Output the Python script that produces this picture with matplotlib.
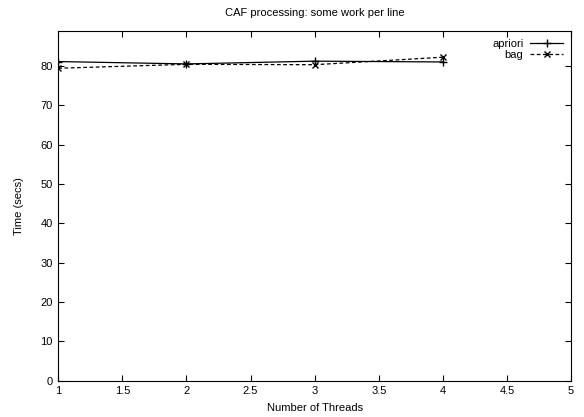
import matplotlib
matplotlib.use("Agg")
import matplotlib.pyplot as plt

plt.rcParams['font.family'] = ['Liberation Sans', 'DejaVu Sans']
plt.rcParams['font.size'] = 8

# data
threads = [1, 2, 3, 4]
apriori = [81.1, 80.5, 81.2, 81.0]
bag = [79.4, 80.4, 80.3, 82.2]

fig = plt.figure(figsize=(5.84, 4.17), dpi=100)
ax = fig.add_axes([0.0998, 0.087, 0.878, 0.839])

ax.plot(threads, apriori, color='black', lw=0.9, marker='+', ms=6, label='apriori')
ax.plot(threads, bag, color='black', lw=0.9, ls=(0, (3, 2)), marker='x', ms=4, label='bag')

ax.set_xlim(1, 5)
ax.set_ylim(0, 88.9)
ax.set_xticks([1, 1.5, 2, 2.5, 3, 3.5, 4, 4.5, 5])
ax.set_xticklabels(['1', '1.5', '2', '2.5', '3', '3.5', '4', '4.5', '5'])
ax.set_yticks(range(0, 81, 10))
ax.tick_params(direction='in', top=True, right=True, length=4, width=0.8, pad=4)

ax.set_xlabel('Number of Threads', labelpad=5)
ax.set_ylabel('Time (secs)', labelpad=12)
ax.set_title('CAF processing: some work per line', fontsize=8, pad=11)

ax.legend(loc='upper right', frameon=False, markerfirst=False, handlelength=3,
          borderaxespad=0.3, labelspacing=0.1, handletextpad=0.6)

fig.savefig('out.png', dpi=100)
